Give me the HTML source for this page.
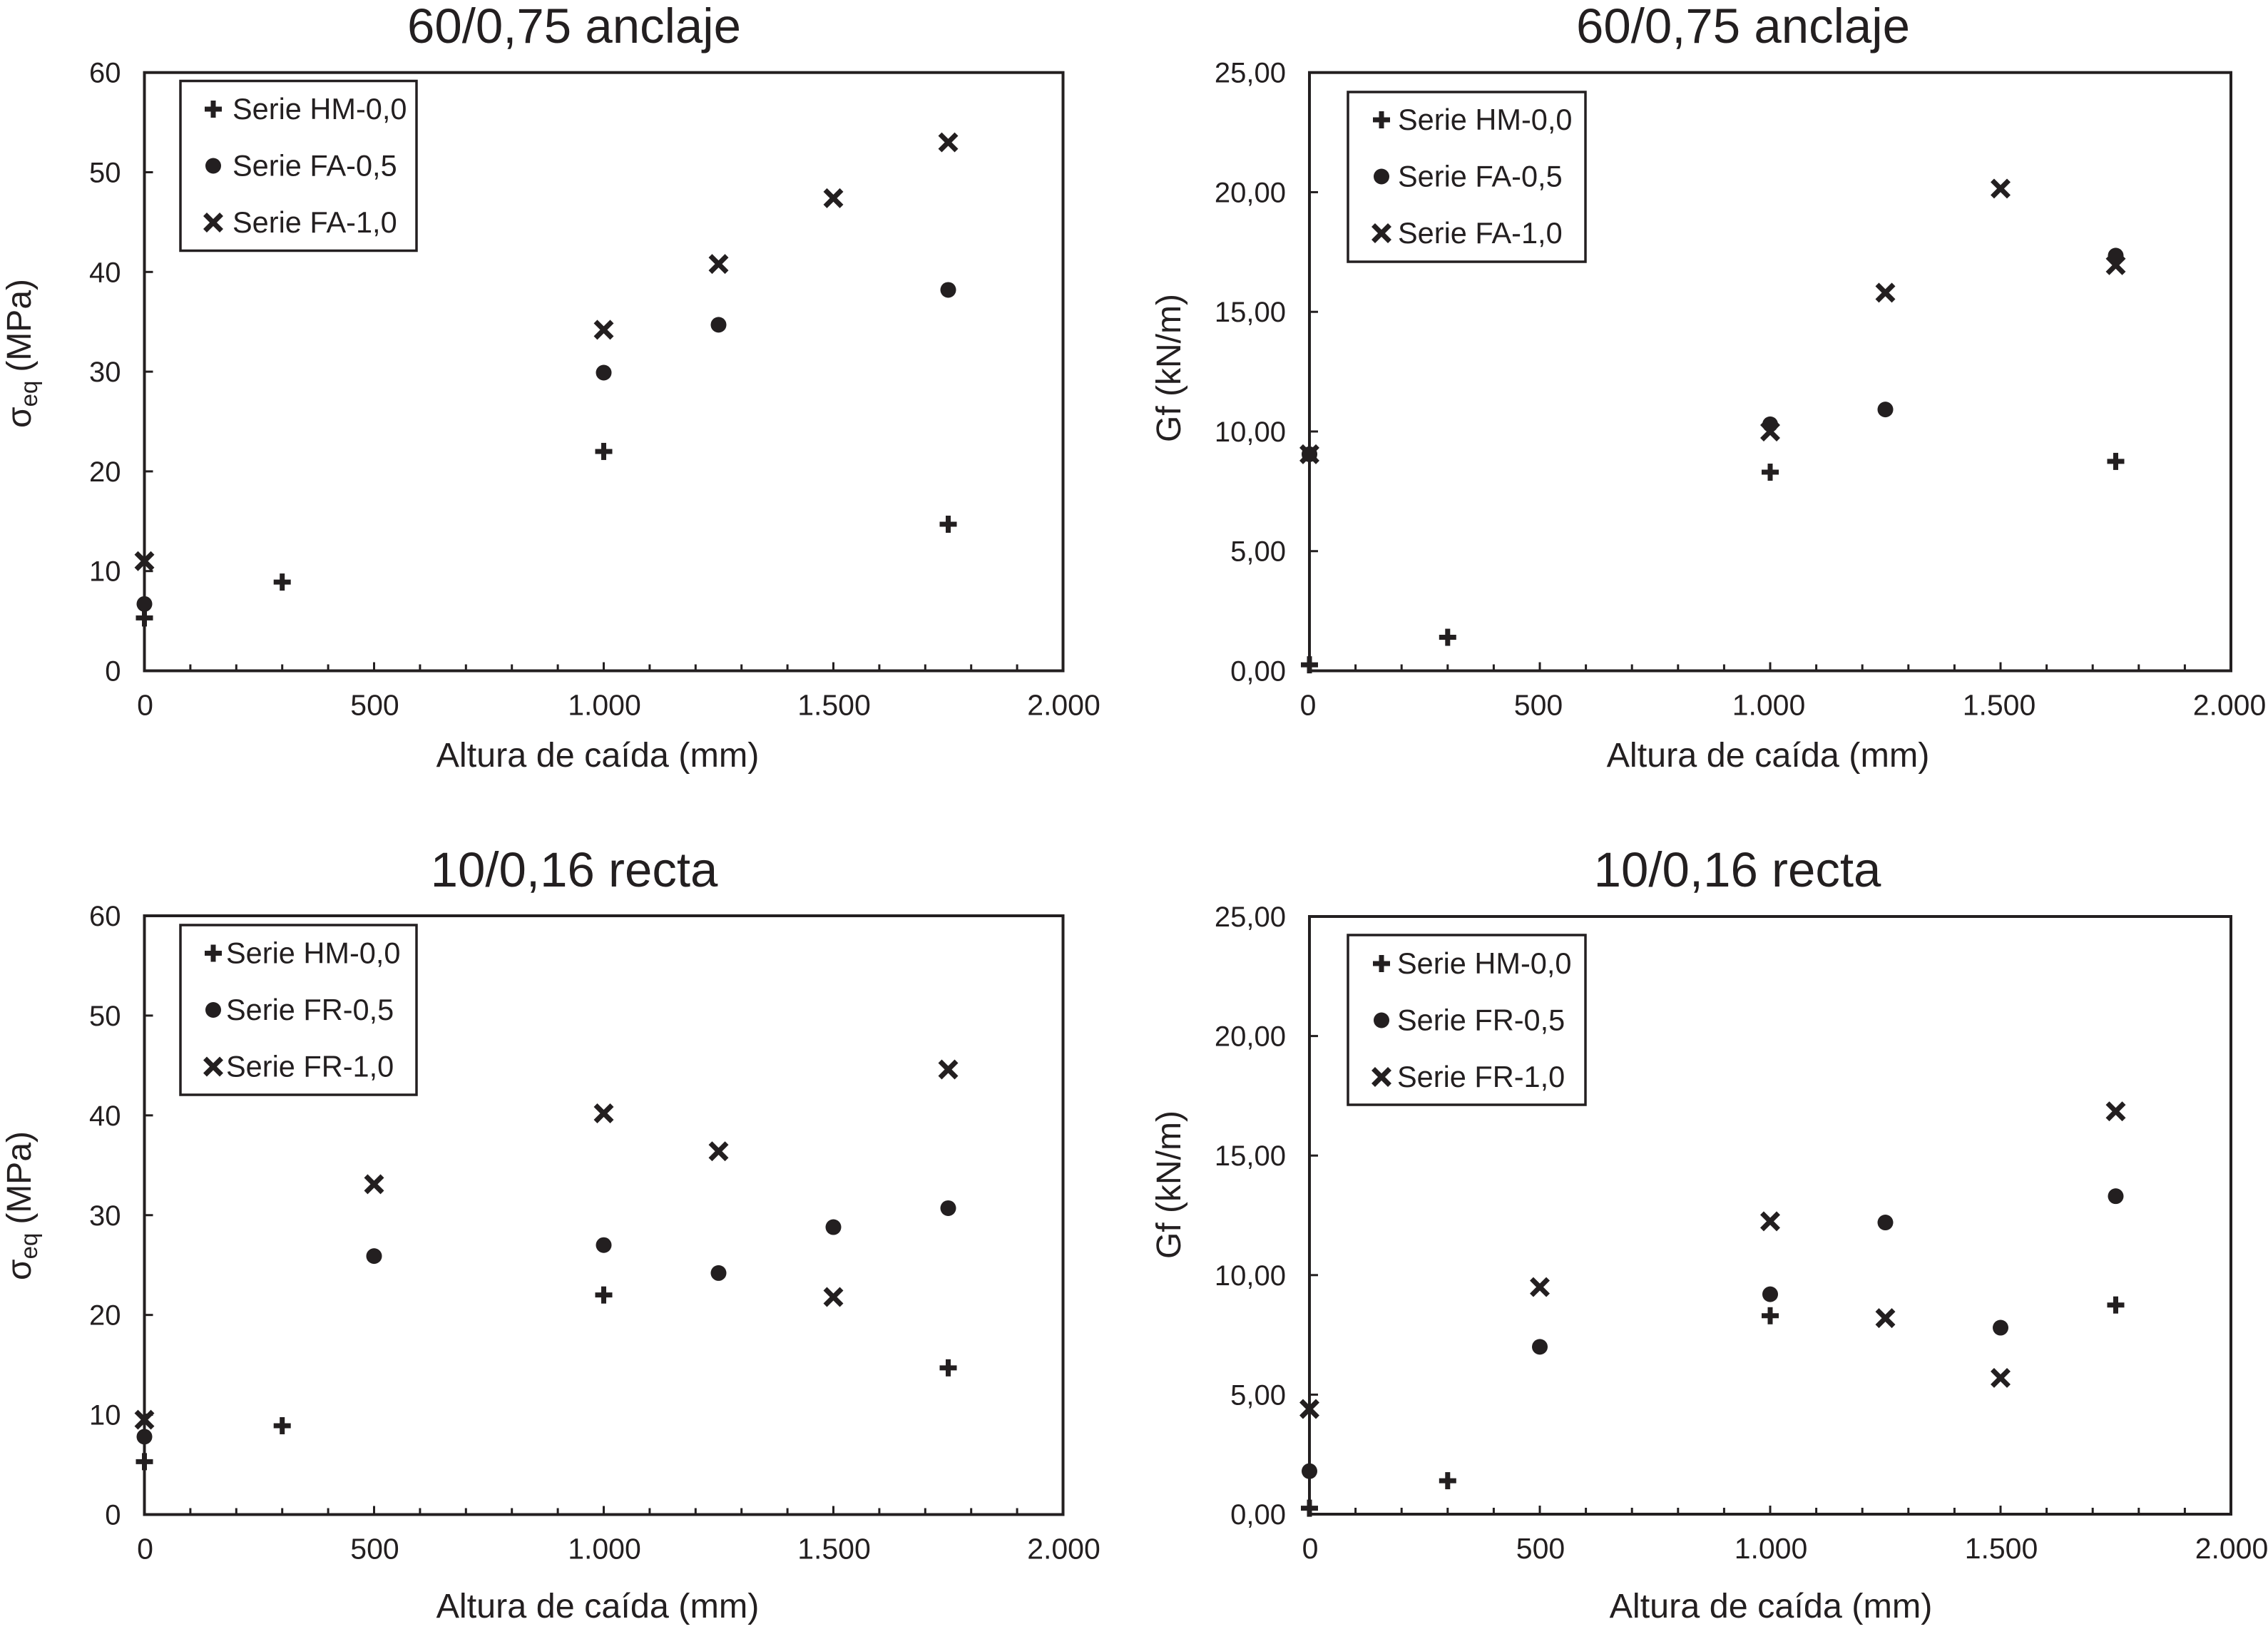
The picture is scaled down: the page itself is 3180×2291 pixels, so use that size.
<!DOCTYPE html>
<html lang="es">
<head>
<meta charset="utf-8">
<title>Altura de caída: 60/0,75 anclaje y 10/0,16 recta</title>
<style>
html,body{margin:0;padding:0;background:#fff;}
svg{display:block;}
text{font-family:"Liberation Sans",sans-serif;fill:#231f20;}
.title{font-size:69px;text-anchor:middle;}
.axis-title{font-size:48.5px;text-anchor:middle;}
.y-title{font-size:48px;}
.tick{font-size:40px;}
.x-tick{font-size:41px;}
.legend-text{font-size:41.5px;}
.frame{fill:none;stroke:#231f20;stroke-width:4;}
.legend-box{fill:#fff;stroke:#231f20;stroke-width:3.5;}
</style>
</head>
<body>
<svg id="chart" xmlns="http://www.w3.org/2000/svg" width="3180" height="2291" viewBox="0 0 3180 2291">
<rect x="0" y="0" width="3180" height="2291" fill="#fff"/>

<g id="panel-a">
  <text class="title" x="805" y="60">60/0,75 anclaje</text>
  <text class="axis-title" x="838" y="1075">Altura de caída (mm)</text>
  <text class="y-title" transform="translate(43,600) rotate(-90)">σ<tspan font-size="33" dy="9">eq</tspan><tspan dy="-9" dx="12">(MPa)</tspan></text>
</g>
<g id="panel-b">
  <text class="title" x="2444" y="60">60/0,75 anclaje</text>
  <text class="axis-title" x="2479" y="1075">Altura de caída (mm)</text>
  <text class="y-title" transform="translate(1655,620) rotate(-90)">Gf (kN/m)</text>
</g>
<g id="panel-c">
  <text class="title" x="805" y="1243">10/0,16 recta</text>
  <text class="axis-title" x="838" y="2268">Altura de caída (mm)</text>
  <text class="y-title" transform="translate(43,1795) rotate(-90)">σ<tspan font-size="33" dy="9">eq</tspan><tspan dy="-9" dx="12">(MPa)</tspan></text>
</g>
<g id="panel-d">
  <text class="title" x="2436" y="1243">10/0,16 recta</text>
  <text class="axis-title" x="2483" y="2268">Altura de caída (mm)</text>
  <text class="y-title" transform="translate(1655,1765) rotate(-90)">Gf (kN/m)</text>
</g>
</svg>

<script>
// Shared axis values
const xTickLabels = ['0', '500', '1.000', '1.500', '2.000'];
const xTickValues = [0, 500, 1000, 1500, 2000];
const sigmaTickLabels = ['0', '10', '20', '30', '40', '50', '60'];
const sigmaTickValues = [0, 10, 20, 30, 40, 50, 60];
const gfTickLabels = ['0,00', '5,00', '10,00', '15,00', '20,00', '25,00'];
const gfTickValues = [0, 5, 10, 15, 20, 25];

// Panel A: sigma eq, 60/0,75 anclaje
const aHmX = [0, 300, 1000, 1750];
const aHmY = [5.3, 8.9, 22, 14.7];
const aHalfX = [0, 1000, 1250, 1750];
const aHalfY = [6.7, 29.9, 34.7, 38.2];
const aOneX = [0, 1000, 1250, 1500, 1750];
const aOneY = [11, 34.2, 40.8, 47.4, 53];

// Panel B: Gf, 60/0,75 anclaje
const bHmX = [0, 300, 1000, 1750];
const bHmY = [0.25, 1.4, 8.3, 8.75];
const bHalfX = [0, 1000, 1250, 1750];
const bHalfY = [9.05, 10.3, 10.92, 17.35];
const bOneX = [0, 1000, 1250, 1500, 1750];
const bOneY = [9.05, 10, 15.8, 20.15, 16.95];

// Panel C: sigma eq, 10/0,16 recta
const cHmX = [0, 300, 1000, 1750];
const cHmY = [5.3, 8.9, 22, 14.7];
const cHalfX = [0, 500, 1000, 1250, 1500, 1750];
const cHalfY = [7.8, 25.9, 27, 24.2, 28.8, 30.7];
const cOneX = [0, 500, 1000, 1250, 1500, 1750];
const cOneY = [9.5, 33.1, 40.2, 36.4, 21.8, 44.6];

// Panel D: Gf, 10/0,16 recta
const dHmX = [0, 300, 1000, 1750];
const dHmY = [0.25, 1.4, 8.3, 8.75];
const dHalfX = [0, 500, 1000, 1250, 1500, 1750];
const dHalfY = [1.8, 7, 9.2, 12.2, 7.8, 13.3];
const dOneX = [0, 500, 1000, 1250, 1500, 1750];
const dOneY = [4.4, 9.5, 12.25, 8.2, 5.7, 16.85];

const NS = 'http://www.w3.org/2000/svg';
const INK = '#231f20';

function svgEl(tag, attrs) {
  const el = document.createElementNS(NS, tag);
  for (const k in attrs) el.setAttribute(k, attrs[k]);
  return el;
}

function drawPlus(parent, cx, cy, name) {
  const g = svgEl('g', {});
  
  
  const h = svgEl('line', {x1: cx - 12, y1: cy, x2: cx + 12, y2: cy, stroke: INK, 'stroke-width': 7});
  
  
  const v = svgEl('line', {x1: cx, y1: cy - 12, x2: cx, y2: cy + 12, stroke: INK, 'stroke-width': 7});
  
  
  g.appendChild(h);
  g.appendChild(v);
  parent.appendChild(g);
}

function drawCircle(parent, cx, cy, name) {
  const c = svgEl('circle', {cx: cx, cy: cy, r: 11, fill: INK});
  
  
  parent.appendChild(c);
}

function drawCross(parent, cx, cy, name) {
  const g = svgEl('g', {});
  
  
  const a = svgEl('line', {x1: cx - 11.5, y1: cy - 11.5, x2: cx + 11.5, y2: cy + 11.5, stroke: INK, 'stroke-width': 7});
  
  
  const b = svgEl('line', {x1: cx - 11.5, y1: cy + 11.5, x2: cx + 11.5, y2: cy - 11.5, stroke: INK, 'stroke-width': 7});
  
  
  g.appendChild(a);
  g.appendChild(b);
  parent.appendChild(g);
}

function drawSeries(parent, xs, ys, xScale, yScale, drawMark, name) {
  for (let i = 0; i < xs.length; i++) {
    drawMark(parent, xScale(xs[i]), yScale(ys[i]), name);
  }
}

function drawPanel(p) {
  const root = document.getElementById(p.id);
  const xScale = function (v) { return p.left + (v / 2000) * (p.right - p.left); };
  const yScale = function (v) { return p.bottom - (v / p.yMax) * (p.bottom - p.top); };

  const frame = svgEl('rect', {class: 'frame', x: p.left, y: p.top, width: p.right - p.left, height: p.bottom - p.top});
  
  
  root.appendChild(frame);

  for (let v = 100; v < 2000; v += 100) {
    const major = v % 500 === 0;
    const t = svgEl('line', {x1: xScale(v), x2: xScale(v), y1: p.bottom, y2: p.bottom - (major ? 12 : 9), stroke: INK, 'stroke-width': 3});
    
    
    root.appendChild(t);
  }
  xTickValues.forEach(function (v, i) {
    const t = svgEl('text', {class: 'x-tick', x: xScale(v) + p.xLabelShift, y: p.bottom + 62, 'text-anchor': 'middle'});
    
    
    t.textContent = xTickLabels[i];
    root.appendChild(t);
  });
  p.yValues.forEach(function (v, i) {
    if (v > 0 && v < p.yMax) {
      const t = svgEl('line', {x1: p.left, x2: p.left + 12, y1: yScale(v), y2: yScale(v), stroke: INK, 'stroke-width': 3});
      
      
      root.appendChild(t);
    }
    const l = svgEl('text', {class: 'tick', x: p.left - 33, y: yScale(v) + 14, 'text-anchor': 'end'});
    
    
    l.textContent = p.yLabels[i];
    root.appendChild(l);
  });

  const box = svgEl('rect', {class: 'legend-box', x: p.legend.x, y: p.legend.y, width: p.legend.w, height: p.legend.h});
  
  
  root.appendChild(box);
  const drawers = [drawPlus, drawCircle, drawCross];
  p.legend.names.forEach(function (n, i) {
    const cy = p.legend.firstY + i * 79.5;
    drawers[i](root, p.legend.markX, cy, 'legend-marker');
    const t = svgEl('text', {class: 'legend-text', x: p.legend.textX, y: cy + 14});
    
    
    t.textContent = n;
    root.appendChild(t);
  });

  drawSeries(root, p.hmX, p.hmY, xScale, yScale, drawPlus, 'series-hm-point');
  drawSeries(root, p.halfX, p.halfY, xScale, yScale, drawCircle, 'series-half-point');
  drawSeries(root, p.oneX, p.oneY, xScale, yScale, drawCross, 'series-one-point');
}

drawPanel({
  id: 'panel-a', left: 202.5, right: 1490.5, top: 101.7, bottom: 940.5, yMax: 60,
  yValues: sigmaTickValues, yLabels: sigmaTickLabels, xLabelShift: 1,
  hmX: aHmX, hmY: aHmY, halfX: aHalfX, halfY: aHalfY, oneX: aOneX, oneY: aOneY,
  legend: {x: 253, y: 113.5, w: 331, h: 238, markX: 299, textX: 326, firstY: 153,
    names: ['Serie HM-0,0', 'Serie FA-0,5', 'Serie FA-1,0']}
});
drawPanel({
  id: 'panel-b', left: 1836, right: 3128, top: 101.7, bottom: 940.5, yMax: 25,
  yValues: gfTickValues, yLabels: gfTickLabels, xLabelShift: -2,
  hmX: bHmX, hmY: bHmY, halfX: bHalfX, halfY: bHalfY, oneX: bOneX, oneY: bOneY,
  legend: {x: 1890, y: 129, w: 333, h: 238, markX: 1937, textX: 1960, firstY: 168,
    names: ['Serie HM-0,0', 'Serie FA-0,5', 'Serie FA-1,0']}
});
drawPanel({
  id: 'panel-c', left: 202.5, right: 1490.5, top: 1284, bottom: 2123.5, yMax: 60,
  yValues: sigmaTickValues, yLabels: sigmaTickLabels, xLabelShift: 1,
  hmX: cHmX, hmY: cHmY, halfX: cHalfX, halfY: cHalfY, oneX: cOneX, oneY: cOneY,
  legend: {x: 253, y: 1297, w: 331, h: 238, markX: 299, textX: 317, firstY: 1336.5,
    names: ['Serie HM-0,0', 'Serie FR-0,5', 'Serie FR-1,0']}
});
drawPanel({
  id: 'panel-d', left: 1836, right: 3128, top: 1285, bottom: 2123, yMax: 25,
  yValues: gfTickValues, yLabels: gfTickLabels, xLabelShift: 1,
  hmX: dHmX, hmY: dHmY, halfX: dHalfX, halfY: dHalfY, oneX: dOneX, oneY: dOneY,
  legend: {x: 1890, y: 1311, w: 333, h: 238, markX: 1937, textX: 1959, firstY: 1351,
    names: ['Serie HM-0,0', 'Serie FR-0,5', 'Serie FR-1,0']}
});
</script>
</body>
</html>
